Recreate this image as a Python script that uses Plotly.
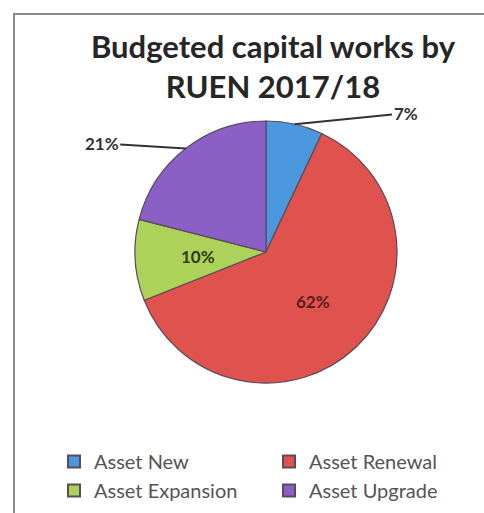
import math
import plotly.graph_objects as go

# Budget share per capital works category (percent)
categories = ["Asset New", "Asset Renewal", "Asset Expansion", "Asset Upgrade"]
shares = [7, 62, 10, 21]
colors = ["#4b97de", "#e0524d", "#acd25a", "#8a5fc6"]
label_colors = ["#333333", "#5a1e1e", "#2e3a16", "#333333"]

# Slices whose label sits outside the pie on a leader line (pixel offsets)
leader_labels = {"Asset New": (111, -11), "Asset Upgrade": (-84, -5)}

W, H = 484, 513
cx, cy, R = 266, 252, 131  # pie centre and radius in pixels

fig = go.Figure()
fig.add_trace(go.Pie(
    labels=categories,
    values=shares,
    sort=False,
    direction="clockwise",
    rotation=0,
    marker=dict(colors=colors, line=dict(color="#5a4a5a", width=1.2)),
    textinfo="none",
    domain=dict(x=[(cx - R) / W, (cx + R) / W], y=[(H - cy - R) / H, (H - cy + R) / H]),
    hoverinfo="label+percent",
    showlegend=True,
))

# Percentage labels placed along each slice's mid angle
total = sum(shares)
cum = 0
for c, v, lc in zip(categories, shares, label_colors):
    mid = (cum + v / 2) / total * 2 * math.pi
    cum += v
    if c in leader_labels:
        px = cx + R * math.sin(mid)
        py = cy - R * math.cos(mid)
        ax, ay = leader_labels[c]
        fig.add_annotation(
            x=px / W, y=1 - py / H, xref="paper", yref="paper",
            text=f"<b>{v}%</b>", showarrow=True, arrowhead=0, arrowwidth=2,
            arrowcolor="#333333", ax=ax, ay=ay,
            font=dict(family="Lato", size=17, color=lc),
        )
    else:
        px = cx + 0.52 * R * math.sin(mid)
        py = cy - 0.52 * R * math.cos(mid)
        fig.add_annotation(
            x=px / W, y=1 - py / H, xref="paper", yref="paper",
            text=f"<b>{v}%</b>", showarrow=False,
            font=dict(family="Lato", size=17, color=lc),
        )

# Chart frame
fig.add_shape(type="rect", xref="paper", yref="paper",
              x0=14 / W, y0=-0.05, x1=1.05, y1=1 - 14 / H,
              line=dict(color="#8a8a8a", width=2), fillcolor="rgba(0,0,0,0)")

fig.update_layout(
    width=W, height=H,
    margin=dict(l=0, r=0, t=0, b=0),
    paper_bgcolor="white",
    plot_bgcolor="white",
    font=dict(family="Lato"),
    title=dict(
        text="<b>Budgeted capital works by<br>RUEN 2017/18</b>",
        x=273 / W, xanchor="center", y=1 - 58 / H, yanchor="top",
        font=dict(family="Lato", size=31, color="#262626"),
    ),
    legend=dict(
        orientation="h", x=57 / W, xanchor="left", y=1 - 442 / H, yanchor="top",
        entrywidth=170, entrywidthmode="pixels",
        font=dict(family="Lato", size=20, color="#555555"),
        itemsizing="constant",
        bgcolor="rgba(0,0,0,0)",
    ),
)

fig.write_html("out.html")
